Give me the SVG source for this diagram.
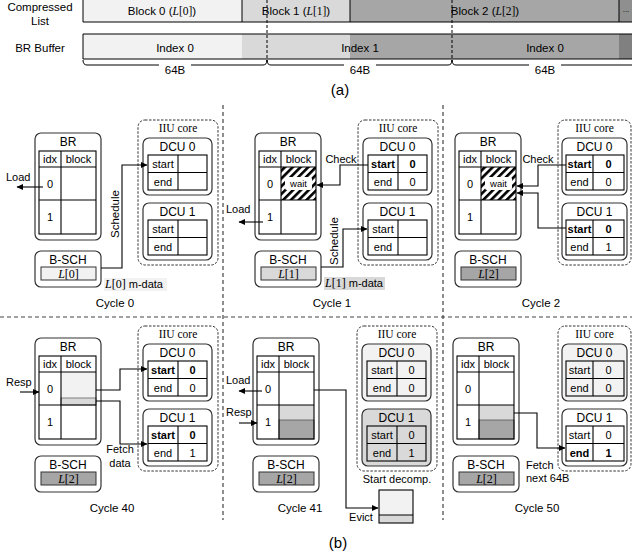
<svg xmlns="http://www.w3.org/2000/svg" width="632" height="560" viewBox="0 0 632 560">
<style>
text{font-family:"Liberation Sans",Arial,sans-serif;font-size:11px;fill:#000}
.c{text-anchor:middle}
.b{font-weight:bold}
.ser{font-family:"Liberation Serif","Times New Roman",serif}
.it{font-style:italic}
.ttl{font-size:12px}
.cy{font-size:11.5px}
.top{font-size:11.5px}
.box{fill:#fff;stroke:#333;stroke-width:1.2}
.grid{fill:none;stroke:#000;stroke-width:1.1}
.ln{fill:none;stroke:#000;stroke-width:1}
.conn{fill:none;stroke:#000;stroke-width:1.1;marker-end:url(#ah)}
.sep{fill:none;stroke:#444;stroke-width:1.2;stroke-dasharray:4 3}
.iiu{fill:#fff;stroke:#333;stroke-width:1;stroke-dasharray:2.5 1.5}
</style>
<defs>
<marker id="ah" markerUnits="userSpaceOnUse" markerWidth="7" markerHeight="6" refX="6" refY="3" orient="auto">
<path d="M0,0 L6.5,3 L0,6 z" fill="#000"/>
</marker>
<pattern id="hatch" patternUnits="userSpaceOnUse" width="5.5" height="5.5" patternTransform="rotate(45)">
<rect width="5.5" height="5.5" fill="#fff"/>
<rect width="2.6" height="5.5" fill="#000"/>
</pattern>
</defs>

<!-- (a) -->
<g id="part-a">
<text class="c top" x="40" y="11">Compressed</text>
<text class="c top" x="40" y="25">List</text>
<text class="c top" x="40" y="52">BR Buffer</text>
<g id="compressed-list">
<rect x="83" y="-1" width="159" height="23" fill="#f2f2f2"/>
<rect x="242" y="-1" width="108" height="23" fill="#d9d9d9"/>
<rect x="350" y="-1" width="269" height="23" fill="#a6a6a6"/>
<rect x="619" y="-1" width="14" height="23" fill="#8f8f8f"/>
<path class="ln" d="M83,-1 V22 H633 M242,-1 V22 M350,-1 V22 M619,-1 V22" stroke="#333"/>
<text class="c top" x="162" y="15">Block 0 (<tspan class="ser it">L</tspan><tspan class="ser">[0]</tspan>)</text>
<text class="c top" x="296" y="15">Block 1 (<tspan class="ser it">L</tspan><tspan class="ser">[1]</tspan>)</text>
<text class="c top" x="485" y="15">Block 2 (<tspan class="ser it">L</tspan><tspan class="ser">[2]</tspan>)</text>
<text class="c" x="626" y="12" style="font-size:8px">...</text>
</g>
<g id="br-buffer">
<rect x="83" y="34" width="159" height="25" fill="#f2f2f2"/>
<rect x="242" y="34" width="108" height="25" fill="#d9d9d9"/>
<rect x="350" y="34" width="269" height="25" fill="#a6a6a6"/>
<rect x="619" y="34" width="14" height="25" fill="#808080"/>
<path class="ln" d="M633,34 H83 V59 H633" stroke="#555"/>
<text class="c top" x="175" y="52">Index 0</text>
<text class="c top" x="360" y="52">Index 1</text>
<text class="c top" x="545" y="52">Index 0</text>
</g>
<path class="ln" d="M267,0 V62 M452,0 V62" stroke-dasharray="3 2" stroke-width="1.2"/>
<path class="ln" d="M83,60 Q83,65 87,65 H159 M191,65 H263 Q267,65 267,60 Q267,65 271,65 H344 M376,65 H448 Q452,65 452,60 Q452,65 456,65 H529 M561,65 H633"/>
<text class="c top" x="175" y="74">64B</text>
<text class="c top" x="360" y="74">64B</text>
<text class="c top" x="545" y="74">64B</text>
<text class="c" x="340" y="95" style="font-size:15px">(a)</text>
</g>

<!-- separators -->
<g id="separators">
<path class="sep" d="M223,105 V520 M443,105 V520 M0,317 H632"/>
</g>

<!-- ================= BR nodes ================= -->
<g id="br-c0" transform="translate(35,133)">
<rect class="box" x="0" y="0" width="66" height="107" rx="6"/>
<text class="c ttl" x="33" y="13">BR</text>
<rect class="grid" x="4" y="18" width="57" height="83"/>
<path class="grid" d="M4,34 H61 M4,67 H61 M26,18 V101"/>
<text class="c" x="15" y="30">idx</text><text class="c" x="43.5" y="30">block</text>
<text class="c" x="15" y="55">0</text><text class="c" x="15" y="88">1</text>
</g>
<g id="br-c1" transform="translate(255,133)">
<rect class="box" x="0" y="0" width="66" height="107" rx="6"/>
<text class="c ttl" x="33" y="13">BR</text>
<rect x="26" y="34" width="35" height="33" fill="url(#hatch)"/>
<rect x="30" y="44" width="27" height="13" rx="2" fill="#fff"/>
<text class="c" x="43.5" y="54" style="font-size:9.5px">wait</text>
<rect class="grid" x="4" y="18" width="57" height="83"/>
<path class="grid" d="M4,34 H61 M4,67 H61 M26,18 V101"/>
<text class="c" x="15" y="30">idx</text><text class="c" x="43.5" y="30">block</text>
<text class="c" x="15" y="55">0</text><text class="c" x="15" y="88">1</text>
</g>
<g id="br-c2" transform="translate(455,133)">
<rect class="box" x="0" y="0" width="66" height="107" rx="6"/>
<text class="c ttl" x="33" y="13">BR</text>
<rect x="26" y="34" width="35" height="33" fill="url(#hatch)"/>
<rect x="30" y="44" width="27" height="13" rx="2" fill="#fff"/>
<text class="c" x="43.5" y="54" style="font-size:9.5px">wait</text>
<rect class="grid" x="4" y="18" width="57" height="83"/>
<path class="grid" d="M4,34 H61 M4,67 H61 M26,18 V101"/>
<text class="c" x="15" y="30">idx</text><text class="c" x="43.5" y="30">block</text>
<text class="c" x="15" y="55">0</text><text class="c" x="15" y="88">1</text>
</g>
<g id="br-c40" transform="translate(35,338)">
<rect class="box" x="0" y="0" width="66" height="107" rx="6"/>
<text class="c ttl" x="33" y="13">BR</text>
<rect x="26" y="34" width="35" height="26" fill="#f2f2f2"/>
<rect x="26" y="60" width="35" height="7" fill="#d9d9d9" stroke="#666" stroke-width="0.8"/>
<rect class="grid" x="4" y="18" width="57" height="83"/>
<path class="grid" d="M4,34 H61 M4,67 H61 M26,18 V101"/>
<text class="c" x="15" y="30">idx</text><text class="c" x="43.5" y="30">block</text>
<text class="c" x="15" y="55">0</text><text class="c" x="15" y="88">1</text>
</g>
<g id="br-c41" transform="translate(253,338)">
<rect class="box" x="0" y="0" width="66" height="107" rx="6"/>
<text class="c ttl" x="33" y="13">BR</text>
<rect x="26" y="67" width="35" height="15" fill="#d9d9d9"/>
<rect x="26" y="82" width="35" height="19" fill="#a6a6a6" stroke="#555" stroke-width="0.8"/>
<rect class="grid" x="4" y="18" width="57" height="83"/>
<path class="grid" d="M4,34 H61 M4,67 H61 M26,18 V101"/>
<text class="c" x="15" y="30">idx</text><text class="c" x="43.5" y="30">block</text>
<text class="c" x="15" y="55">0</text><text class="c" x="15" y="88">1</text>
</g>
<g id="br-c50" transform="translate(453,338)">
<rect class="box" x="0" y="0" width="66" height="107" rx="6"/>
<text class="c ttl" x="33" y="13">BR</text>
<rect x="26" y="67" width="35" height="15" fill="#d9d9d9"/>
<rect x="26" y="82" width="35" height="19" fill="#a6a6a6" stroke="#555" stroke-width="0.8"/>
<rect class="grid" x="4" y="18" width="57" height="83"/>
<path class="grid" d="M4,34 H61 M4,67 H61 M26,18 V101"/>
<text class="c" x="15" y="30">idx</text><text class="c" x="43.5" y="30">block</text>
<text class="c" x="15" y="55">0</text><text class="c" x="15" y="88">1</text>
</g>

<!-- ================= B-SCH nodes ================= -->
<g id="bsch-c0" transform="translate(35,251)">
<rect class="box" x="0" y="0" width="66" height="36" rx="6"/>
<text class="c ttl" x="33" y="12.5">B-SCH</text>
<rect x="6" y="16" width="55" height="13" fill="#f2f2f2" stroke="#333"/>
<text class="c ser" x="33.5" y="26.5" style="font-size:12px"><tspan class="it">L</tspan>[0]</text>
</g>
<g id="bsch-c1" transform="translate(255,251)">
<rect class="box" x="0" y="0" width="66" height="36" rx="6"/>
<text class="c ttl" x="33" y="12.5">B-SCH</text>
<rect x="6" y="16" width="55" height="13" fill="#d9d9d9" stroke="#333"/>
<text class="c ser" x="33.5" y="26.5" style="font-size:12px"><tspan class="it">L</tspan>[1]</text>
</g>
<g id="bsch-c2" transform="translate(455,251)">
<rect class="box" x="0" y="0" width="66" height="36" rx="6"/>
<text class="c ttl" x="33" y="12.5">B-SCH</text>
<rect x="6" y="16" width="55" height="13" fill="#a6a6a6" stroke="#333"/>
<text class="c ser" x="33.5" y="26.5" style="font-size:12px"><tspan class="it">L</tspan>[2]</text>
</g>
<g id="bsch-c40" transform="translate(35,456)">
<rect class="box" x="0" y="0" width="66" height="36" rx="6"/>
<text class="c ttl" x="33" y="12.5">B-SCH</text>
<rect x="6" y="16" width="55" height="13" fill="#a6a6a6" stroke="#333"/>
<text class="c ser" x="33.5" y="26.5" style="font-size:12px"><tspan class="it">L</tspan>[2]</text>
</g>
<g id="bsch-c41" transform="translate(253,456)">
<rect class="box" x="0" y="0" width="66" height="36" rx="6"/>
<text class="c ttl" x="33" y="12.5">B-SCH</text>
<rect x="6" y="16" width="55" height="13" fill="#a6a6a6" stroke="#333"/>
<text class="c ser" x="33.5" y="26.5" style="font-size:12px"><tspan class="it">L</tspan>[2]</text>
</g>
<g id="bsch-c50" transform="translate(453,456)">
<rect class="box" x="0" y="0" width="66" height="36" rx="6"/>
<text class="c ttl" x="33" y="12.5">B-SCH</text>
<rect x="6" y="16" width="55" height="13" fill="#a6a6a6" stroke="#333"/>
<text class="c ser" x="33.5" y="26.5" style="font-size:12px"><tspan class="it">L</tspan>[2]</text>
</g>

<!-- ================= IIU core nodes ================= -->
<g id="iiu-c0" transform="translate(138,120)">
<rect class="iiu" x="0" y="0" width="80" height="145" rx="7"/>
<text class="c ser" x="40" y="11.5" style="font-size:11.5px">IIU core</text>
<g id="dcu0-c0"><rect class="box" x="5" y="18" width="69" height="57" rx="6"/>
<text class="c ttl" x="39.5" y="30.5">DCU 0</text>
<rect class="grid" x="10" y="35" width="59" height="35" fill="#fff"/><path class="grid" d="M10,52.5 H69 M40,35 V70"/>
<text class="c" x="25" y="48">start</text><text class="c" x="25" y="65.5">end</text></g>
<g id="dcu1-c0"><rect class="box" x="5" y="83" width="69" height="57" rx="6"/>
<text class="c ttl" x="39.5" y="95.5">DCU 1</text>
<rect class="grid" x="10" y="100" width="59" height="35" fill="#fff"/><path class="grid" d="M10,117.5 H69 M40,100 V135"/>
<text class="c" x="25" y="113">start</text><text class="c" x="25" y="130.5">end</text></g>
</g>
<g id="iiu-c1" transform="translate(358,120)">
<rect class="iiu" x="0" y="0" width="80" height="145" rx="7"/>
<text class="c ser" x="40" y="11.5" style="font-size:11.5px">IIU core</text>
<g id="dcu0-c1"><rect class="box" x="5" y="18" width="69" height="57" rx="6"/>
<text class="c ttl" x="39.5" y="30.5">DCU 0</text>
<rect class="grid" x="10" y="35" width="59" height="35" fill="#f2f2f2"/><path class="grid" d="M10,52.5 H69 M40,35 V70"/>
<text class="c b" x="25" y="48">start</text><text class="c b" x="54.5" y="48">0</text>
<text class="c" x="25" y="65.5">end</text><text class="c" x="54.5" y="65.5">0</text></g>
<g id="dcu1-c1"><rect class="box" x="5" y="83" width="69" height="57" rx="6"/>
<text class="c ttl" x="39.5" y="95.5">DCU 1</text>
<rect class="grid" x="10" y="100" width="59" height="35" fill="#fff"/><path class="grid" d="M10,117.5 H69 M40,100 V135"/>
<text class="c" x="25" y="113">start</text><text class="c" x="25" y="130.5">end</text></g>
</g>
<g id="iiu-c2" transform="translate(558,120)">
<rect class="iiu" x="0" y="0" width="73" height="145" rx="7"/>
<text class="c ser" x="36.5" y="11.5" style="font-size:11.5px">IIU core</text>
<g id="dcu0-c2"><rect class="box" x="4" y="18" width="65" height="57" rx="6"/>
<text class="c ttl" x="36.5" y="30.5">DCU 0</text>
<rect class="grid" x="8" y="35" width="58" height="35" fill="#f2f2f2"/><path class="grid" d="M8,52.5 H66 M35,35 V70"/>
<text class="c b" x="21.5" y="48">start</text><text class="c b" x="50.5" y="48">0</text>
<text class="c" x="21.5" y="65.5">end</text><text class="c" x="50.5" y="65.5">0</text></g>
<g id="dcu1-c2"><rect class="box" x="4" y="83" width="65" height="57" rx="6"/>
<text class="c ttl" x="36.5" y="95.5">DCU 1</text>
<rect class="grid" x="8" y="100" width="58" height="35" fill="#d9d9d9"/><path class="grid" d="M8,117.5 H66 M35,100 V135"/>
<text class="c b" x="21.5" y="113">start</text><text class="c b" x="50.5" y="113">0</text>
<text class="c" x="21.5" y="130.5">end</text><text class="c" x="50.5" y="130.5">1</text></g>
</g>
<g id="iiu-c40" transform="translate(138,326)">
<rect class="iiu" x="0" y="0" width="80" height="145" rx="7"/>
<text class="c ser" x="40" y="11.5" style="font-size:11.5px">IIU core</text>
<g id="dcu0-c40"><rect class="box" x="5" y="18" width="69" height="57" rx="6"/>
<text class="c ttl" x="39.5" y="30.5">DCU 0</text>
<rect class="grid" x="10" y="35" width="59" height="35" fill="#f2f2f2"/><path class="grid" d="M10,52.5 H69 M40,35 V70"/>
<text class="c b" x="25" y="48">start</text><text class="c b" x="54.5" y="48">0</text>
<text class="c" x="25" y="65.5">end</text><text class="c" x="54.5" y="65.5">0</text></g>
<g id="dcu1-c40"><rect class="box" x="5" y="83" width="69" height="57" rx="6"/>
<text class="c ttl" x="39.5" y="95.5">DCU 1</text>
<rect class="grid" x="10" y="100" width="59" height="35" fill="#d9d9d9"/><path class="grid" d="M10,117.5 H69 M40,100 V135"/>
<text class="c b" x="25" y="113">start</text><text class="c b" x="54.5" y="113">0</text>
<text class="c" x="25" y="130.5">end</text><text class="c" x="54.5" y="130.5">1</text></g>
</g>
<g id="iiu-c41" transform="translate(357,326)">
<rect class="iiu" x="0" y="0" width="80" height="145" rx="7"/>
<text class="c ser" x="40" y="11.5" style="font-size:11.5px">IIU core</text>
<g id="dcu0-c41"><rect class="box" x="5" y="18" width="69" height="57" rx="6" style="fill:#f2f2f2"/>
<text class="c ttl" x="39.5" y="30.5">DCU 0</text>
<rect class="grid" x="10" y="35" width="59" height="35" fill="#f2f2f2"/><path class="grid" d="M10,52.5 H69 M40,35 V70"/>
<text class="c" x="25" y="48">start</text><text class="c" x="54.5" y="48">0</text>
<text class="c" x="25" y="65.5">end</text><text class="c" x="54.5" y="65.5">0</text></g>
<g id="dcu1-c41"><rect class="box" x="5" y="83" width="69" height="57" rx="6" style="fill:#d9d9d9"/>
<text class="c ttl" x="39.5" y="95.5">DCU 1</text>
<rect class="grid" x="10" y="100" width="59" height="35" fill="#d9d9d9"/><path class="grid" d="M10,117.5 H69 M40,100 V135"/>
<text class="c" x="25" y="113">start</text><text class="c" x="54.5" y="113">0</text>
<text class="c" x="25" y="130.5">end</text><text class="c" x="54.5" y="130.5">1</text></g>
</g>
<g id="iiu-c50" transform="translate(558,326)">
<rect class="iiu" x="0" y="0" width="73" height="145" rx="7"/>
<text class="c ser" x="36.5" y="11.5" style="font-size:11.5px">IIU core</text>
<g id="dcu0-c50"><rect class="box" x="4" y="18" width="65" height="57" rx="6" style="fill:#f2f2f2"/>
<text class="c ttl" x="36.5" y="30.5">DCU 0</text>
<rect class="grid" x="8" y="35" width="58" height="35" fill="#f2f2f2"/><path class="grid" d="M8,52.5 H66 M35,35 V70"/>
<text class="c" x="21.5" y="48">start</text><text class="c" x="50.5" y="48">0</text>
<text class="c" x="21.5" y="65.5">end</text><text class="c" x="50.5" y="65.5">0</text></g>
<g id="dcu1-c50"><rect class="box" x="4" y="83" width="65" height="57" rx="6"/>
<text class="c ttl" x="36.5" y="95.5">DCU 1</text>
<rect class="grid" x="8" y="100" width="58" height="35" fill="#d9d9d9"/><path class="grid" d="M8,117.5 H66 M35,100 V135"/>
<text class="c" x="21.5" y="113">start</text><text class="c" x="50.5" y="113">0</text>
<text class="c b" x="21.5" y="130.5">end</text><text class="c b" x="50.5" y="130.5">1</text></g>
</g>

<!-- Evict buffer -->
<g id="evict-block">
<rect x="379" y="490" width="34" height="25" fill="#f2f2f2"/>
<rect x="379" y="515" width="34" height="8" fill="#d9d9d9"/>
<rect class="grid" x="379" y="490" width="34" height="33" stroke="#333"/>
<path class="grid" d="M379,515 H413" stroke="#555"/>
</g>

<!-- ================= connectors ================= -->
<g id="connectors">
<path class="conn" d="M43,187 H17"/>
<path class="conn" d="M101,268 H122 V165 H147"/>
<path class="conn" d="M263,222 H239"/>
<path class="conn" d="M368,165 H340 V185 H317"/>
<path class="conn" d="M321,267 H343 V229 H367"/>
<path class="conn" d="M566,165 H538 V186 H517"/>
<path class="conn" d="M566,228 H538 V193 H517"/>
<path class="conn" d="M20,392 H39"/>
<path class="conn" d="M96,390 H120 V369 H147"/>
<path class="conn" d="M96,401 H120 V444 H147"/>
<path class="conn" d="M262,391 H239"/>
<path class="conn" d="M239,423 H257"/>
<path class="conn" d="M314,390 H346 V508 H378"/>
<path class="conn" d="M514,413 H537 V448 H565"/>
</g>

<!-- ================= labels ================= -->
<g id="labels">
<text x="6" y="181">Load</text>
<text transform="translate(119,214) rotate(-90)" class="c" style="font-size:11.5px">Schedule</text>
<rect x="104" y="278" width="63" height="13" fill="#f2f2f2"/>
<text x="105" y="288"><tspan class="ser it" style="font-size:12px">L</tspan><tspan class="ser" style="font-size:12px">[0]</tspan> m-data</text>

<text x="226" y="213">Load</text>
<text class="c" x="341" y="163">Check</text>
<text transform="translate(338,241) rotate(-90)" class="c" style="font-size:11.5px">Schedule</text>
<rect x="324" y="277" width="61" height="13" fill="#d9d9d9"/>
<text x="325" y="287"><tspan class="ser it" style="font-size:12px">L</tspan><tspan class="ser" style="font-size:12px">[1]</tspan> m-data</text>

<text class="c" x="538" y="163">Check</text>

<text x="6" y="386">Resp</text>
<text class="c" x="120" y="453">Fetch</text>
<text class="c" x="120" y="467">data</text>

<text x="226" y="384">Load</text>
<text x="226" y="416">Resp</text>
<text class="c" x="397" y="483">Start decomp.</text>
<text class="c" x="361" y="521">Evict</text>

<text x="526" y="469">Fetch</text>
<text x="526" y="482">next 64B</text>

<text class="c cy" x="115" y="307">Cycle 0</text>
<text class="c cy" x="332" y="307">Cycle 1</text>
<text class="c cy" x="541" y="307">Cycle 2</text>
<text class="c cy" x="112" y="512">Cycle 40</text>
<text class="c cy" x="300" y="512">Cycle 41</text>
<text class="c cy" x="537" y="512">Cycle 50</text>
<text class="c" x="338" y="548" style="font-size:15px">(b)</text>
</g>
</svg>
